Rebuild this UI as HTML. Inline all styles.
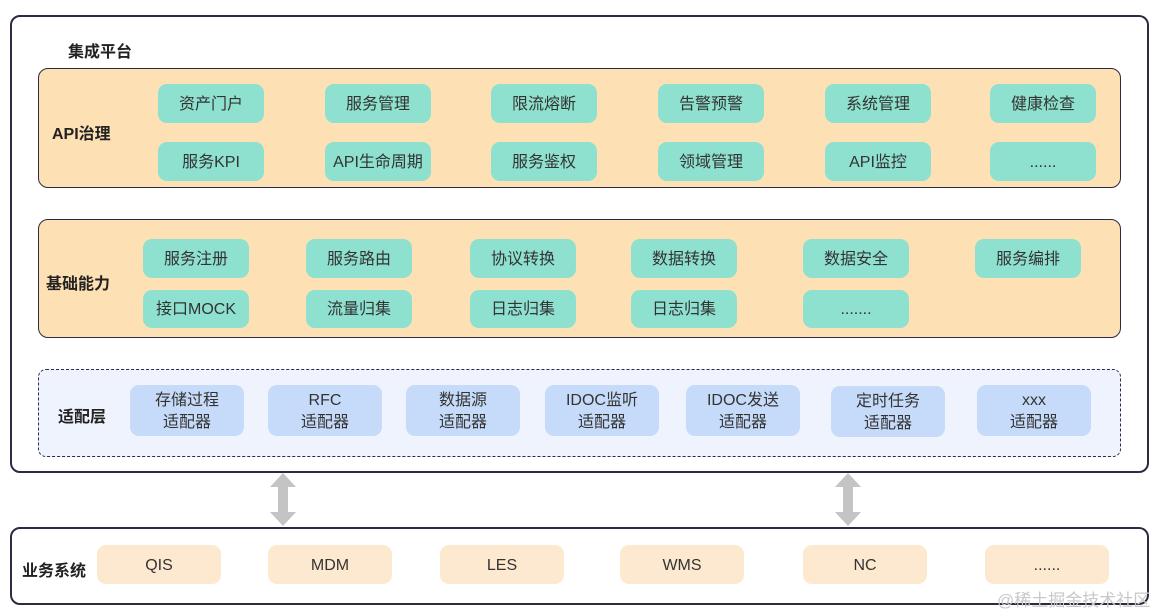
<!DOCTYPE html>
<html><head><meta charset="utf-8"><style>
*{margin:0;padding:0;box-sizing:border-box}
body{width:1163px;height:613px;background:#fff;position:relative;overflow:hidden;font-family:"Liberation Sans","Noto Sans CJK SC",sans-serif;color:#222}
.a{position:absolute}
.box{position:absolute;border:2px solid #2b2b45;border-radius:10px}
.t{position:absolute;display:flex;align-items:center;justify-content:center;text-align:center;border-radius:9px;font-size:16px;line-height:1.4;color:#333;padding-top:3px}
.g{background:#8ee0cf}
.b{background:#c6dbfa}
.o{background:#fde9cf}
.lab{position:absolute;font-weight:bold;font-size:16px}
</style></head><body>
<div class="box" style="left:10px;top:15px;width:1139px;height:458px"></div>
<div class="lab" style="left:68px;top:38px">集成平台</div>

<div class="box" style="left:38px;top:68px;width:1083px;height:120px;background:#fde0b4;border-width:1px"></div>
<div class="lab" style="left:52px;top:120px">API治理</div>
<div class="t g" style="left:158px;top:84px;width:106px;height:39px">资产门户</div>
<div class="t g" style="left:325px;top:84px;width:106px;height:39px">服务管理</div>
<div class="t g" style="left:491px;top:84px;width:106px;height:39px">限流熔断</div>
<div class="t g" style="left:658px;top:84px;width:106px;height:39px">告警预警</div>
<div class="t g" style="left:825px;top:84px;width:106px;height:39px">系统管理</div>
<div class="t g" style="left:990px;top:84px;width:106px;height:39px">健康检查</div>
<div class="t g" style="left:158px;top:142px;width:106px;height:39px">服务KPI</div>
<div class="t g" style="left:325px;top:142px;width:106px;height:39px">API生命周期</div>
<div class="t g" style="left:491px;top:142px;width:106px;height:39px">服务鉴权</div>
<div class="t g" style="left:658px;top:142px;width:106px;height:39px">领域管理</div>
<div class="t g" style="left:825px;top:142px;width:106px;height:39px">API监控</div>
<div class="t g" style="left:990px;top:142px;width:106px;height:39px">......</div>

<div class="box" style="left:38px;top:219px;width:1083px;height:119px;background:#fde0b4;border-width:1px"></div>
<div class="lab" style="left:46px;top:270px">基础能力</div>
<div class="t g" style="left:143px;top:239px;width:106px;height:39px">服务注册</div>
<div class="t g" style="left:306px;top:239px;width:106px;height:39px">服务路由</div>
<div class="t g" style="left:470px;top:239px;width:106px;height:39px">协议转换</div>
<div class="t g" style="left:631px;top:239px;width:106px;height:39px">数据转换</div>
<div class="t g" style="left:803px;top:239px;width:106px;height:39px">数据安全</div>
<div class="t g" style="left:975px;top:239px;width:106px;height:39px">服务编排</div>
<div class="t g" style="left:143px;top:290px;width:106px;height:38px">接口MOCK</div>
<div class="t g" style="left:306px;top:290px;width:106px;height:38px">流量归集</div>
<div class="t g" style="left:470px;top:290px;width:106px;height:38px">日志归集</div>
<div class="t g" style="left:631px;top:290px;width:106px;height:38px">日志归集</div>
<div class="t g" style="left:803px;top:290px;width:106px;height:38px">.......</div>

<div class="a" style="left:38px;top:369px;width:1083px;height:88px;background:#eef3fd;border:1.3px dashed #2b2b45;border-radius:8px"></div>
<div class="lab" style="left:58px;top:403px">适配层</div>
<div class="t b" style="left:130px;top:385px;width:114px;height:51px">存储过程<br>适配器</div>
<div class="t b" style="left:268px;top:385px;width:114px;height:51px">RFC<br>适配器</div>
<div class="t b" style="left:406px;top:385px;width:114px;height:51px">数据源<br>适配器</div>
<div class="t b" style="left:545px;top:385px;width:114px;height:51px">IDOC监听<br>适配器</div>
<div class="t b" style="left:686px;top:385px;width:114px;height:51px">IDOC发送<br>适配器</div>
<div class="t b" style="left:831px;top:386px;width:114px;height:51px">定时任务<br>适配器</div>
<div class="t b" style="left:977px;top:385px;width:114px;height:51px">xxx<br>适配器</div>

<svg class="a" style="left:0;top:0" width="1163" height="613">
<g fill="#c4c4c4">
<polygon points="283,473 296,487 288,487 288,512 296,512 283,526 270,512 278,512 278,487 270,487"/>
<polygon points="848,473 861,487 853,487 853,512 861,512 848,526 835,512 843,512 843,487 835,487"/>
</g></svg>

<div class="box" style="left:10px;top:527px;width:1139px;height:78px"></div>
<div class="lab" style="left:22px;top:557px">业务系统</div>
<div class="t o" style="left:97px;top:545px;width:124px;height:39px">QIS</div>
<div class="t o" style="left:268px;top:545px;width:124px;height:39px">MDM</div>
<div class="t o" style="left:440px;top:545px;width:124px;height:39px">LES</div>
<div class="t o" style="left:620px;top:545px;width:124px;height:39px">WMS</div>
<div class="t o" style="left:803px;top:545px;width:124px;height:39px">NC</div>
<div class="t o" style="left:985px;top:545px;width:124px;height:39px">......</div>
<div class="a" style="left:997px;top:586px;font-size:17px;color:#c8c8c8">@稀土掘金技术社区</div>
</body></html>
